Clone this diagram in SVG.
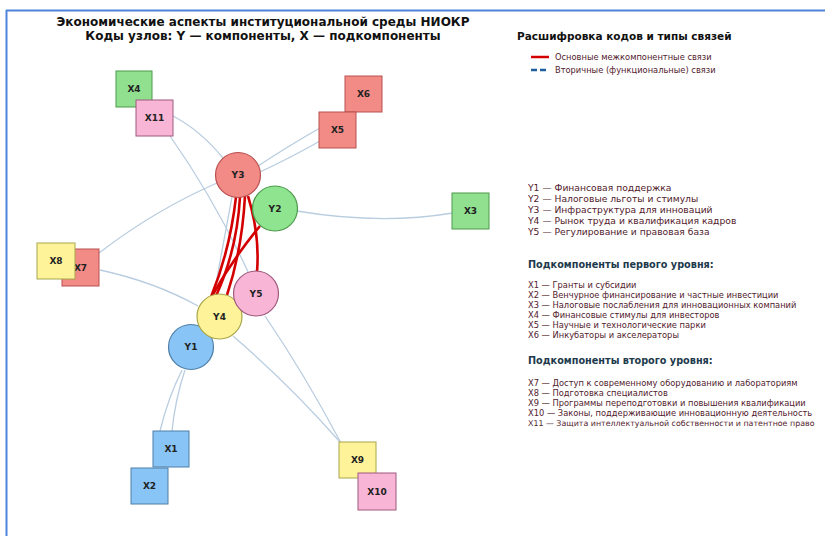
<svg xmlns="http://www.w3.org/2000/svg" width="825" height="536" viewBox="0 0 825 536">
<style>
.title{font-family:"DejaVu Sans",sans-serif;font-weight:bold;font-size:12px;fill:#111;text-anchor:middle}
.lt{font-family:"DejaVu Sans",sans-serif;font-weight:bold;font-size:10.5px;fill:#111}
.lh{font-family:"DejaVu Sans",sans-serif;font-weight:bold;font-size:9.7px;fill:#1d3a4c}
.ly{font-family:"DejaVu Sans",sans-serif;font-size:9.2px;fill:#521a2c}
.lx{font-family:"DejaVu Sans",sans-serif;font-size:8.3px;fill:#521a2c}
.lx2{font-family:"DejaVu Sans",sans-serif;font-size:7.9px;fill:#521a2c}
.nl{font-family:"DejaVu Sans",sans-serif;font-weight:bold;font-size:9px;fill:#222;text-anchor:middle;dominant-baseline:central}
.sec{fill:none;stroke:#b9cde0;stroke-width:1.3}
.main{fill:none;stroke:#d40000;stroke-width:2.6}
.n-y1{fill:#88c4f5;stroke:#4f7fa8;stroke-width:1.2}
.n-y2{fill:#8fe58f;stroke:#4c9a4c;stroke-width:1.2}
.n-y3{fill:#f28a86;stroke:#b85050;stroke-width:1.2}
.n-y4{fill:#fff39a;stroke:#a7a64a;stroke-width:1.2}
.n-y5{fill:#f9b5d5;stroke:#9e5a7e;stroke-width:1.2}
</style>
<rect x="0" y="0" width="825" height="536" fill="#ffffff"/>
<line x1="6" y1="10.5" x2="825" y2="10.5" stroke="#4f84db" stroke-width="2"/>
<line x1="6.5" y1="10" x2="6.5" y2="536" stroke="#4f84db" stroke-width="2"/>

<text class="title" x="263" y="26">Экономические аспекты институциональной среды НИОКР</text>
<text class="title" x="263" y="39.5">Коды узлов: Y — компоненты, X — подкомпоненты</text>

<g id="connectors">
  <path class="sec" d="M173,116 Q200,130 223,158"/>
  <path class="sec" d="M170,136 Q215,200 249,274"/>
  <path class="sec" d="M258,166 Q290,145 320,128"/>
  <path class="sec" d="M260,172 Q292,157 320,141"/>
  <path class="sec" d="M217,183 Q155,210 99,253"/>
  <path class="sec" d="M100,270 Q155,282 198,306"/>
  <path class="sec" d="M297,211 Q380,225 453,213"/>
  <path class="sec" d="M182,370 Q168,398 160,431"/>
  <path class="sec" d="M185,370 Q175,400 172,431"/>
  <path class="sec" d="M233,336 Q290,385 340,442"/>
  <path class="sec" d="M265,316 Q305,375 341,443"/>
  <path class="sec" d="M232,197 Q222,250 214,295"/>
  <path class="main" d="M236,197 Q230,250 211,297"/>
  <path class="main" d="M240,197 Q237,250 216,296"/>
  <path class="main" d="M245,196 Q242,250 227,295"/>
  <path class="main" d="M248,196 Q260,235 257,272"/>
  <path class="main" d="M260,226 Q232,260 212,296"/>
</g>

<g id="X4"><rect x="116" y="71" width="36" height="36" fill="#90e090" stroke="#4c9a4c" stroke-width="1"/><text class="nl" x="134" y="89">X4</text></g>
<g id="X11"><rect x="136" y="100" width="37" height="36" fill="#f9b5d5" stroke="#9e5a7e" stroke-width="1"/><text class="nl" x="154.5" y="118">X11</text></g>
<g id="X6"><rect x="345" y="76" width="37" height="36" fill="#f28a86" stroke="#b85050" stroke-width="1"/><text class="nl" x="363.5" y="94">X6</text></g>
<g id="X5"><rect x="319" y="112" width="37" height="36" fill="#f28a86" stroke="#b85050" stroke-width="1"/><text class="nl" x="337.5" y="130">X5</text></g>
<g id="X3"><rect x="452" y="193" width="37" height="36" fill="#90e090" stroke="#4c9a4c" stroke-width="1"/><text class="nl" x="470.5" y="211">X3</text></g>
<g id="X7"><rect x="62" y="249" width="37" height="37" fill="#f28a86" stroke="#b85050" stroke-width="1"/><text class="nl" x="80.5" y="267.5">X7</text></g>
<g id="X8"><rect x="37" y="243" width="38" height="36" fill="#fff39a" stroke="#a7a64a" stroke-width="1"/><text class="nl" x="56" y="261">X8</text></g>
<g id="X2"><rect x="131" y="468" width="37" height="36" fill="#88c4f5" stroke="#4f7fa8" stroke-width="1"/><text class="nl" x="149.5" y="486">X2</text></g>
<g id="X1"><rect x="153" y="431" width="36" height="36" fill="#88c4f5" stroke="#4f7fa8" stroke-width="1"/><text class="nl" x="171" y="449">X1</text></g>
<g id="X9"><rect x="339" y="442" width="37" height="36" fill="#fff39a" stroke="#a7a64a" stroke-width="1"/><text class="nl" x="357.5" y="460">X9</text></g>
<g id="X10"><rect x="358" y="473" width="38" height="37" fill="#f9b5d5" stroke="#9e5a7e" stroke-width="1"/><text class="nl" x="377" y="491.5">X10</text></g>

<g id="Y3"><circle class="n-y3" cx="238" cy="175" r="22.5"/><text class="nl" x="238" y="175">Y3</text></g>
<g id="Y2"><circle class="n-y2" cx="275" cy="208.5" r="22.5"/><text class="nl" x="275" y="208.5">Y2</text></g>
<g id="Y1"><circle class="n-y1" cx="191" cy="347" r="22.5"/><text class="nl" x="191" y="347">Y1</text></g>
<g id="Y4"><circle class="n-y4" cx="219.5" cy="316.5" r="22.5"/><text class="nl" x="219.5" y="316.5">Y4</text></g>
<g id="Y5"><circle class="n-y5" cx="256" cy="293.5" r="22.5"/><text class="nl" x="256" y="293.5">Y5</text></g>

<g id="legend">
  <text class="lt" x="517" y="40">Расшифровка кодов и типы связей</text>
  <line x1="531" y1="57" x2="549" y2="57" stroke="#d40000" stroke-width="2.5"/>
  <text class="lx" x="555" y="60">Основные межкомпонентные связи</text>
  <line x1="531" y1="70" x2="549" y2="70" stroke="#1f5f9f" stroke-width="2.5" stroke-dasharray="6,3"/>
  <text class="lx" x="555" y="73">Вторичные (функциональные) связи</text>
  <text class="ly" x="528" y="191">Y1 — Финансовая поддержка</text>
  <text class="ly" x="528" y="202">Y2 — Налоговые льготы и стимулы</text>
  <text class="ly" x="528" y="213">Y3 — Инфраструктура для инноваций</text>
  <text class="ly" x="528" y="224">Y4 — Рынок труда и квалификация кадров</text>
  <text class="ly" x="528" y="235">Y5 — Регулирование и правовая база</text>
  <text class="lh" x="528" y="268">Подкомпоненты первого уровня:</text>
  <text class="lx" x="528" y="288">X1 — Гранты и субсидии</text>
  <text class="lx" x="528" y="298">X2 — Венчурное финансирование и частные инвестиции</text>
  <text class="lx" x="528" y="308">X3 — Налоговые послабления для инновационных компаний</text>
  <text class="lx" x="528" y="318">X4 — Финансовые стимулы для инвесторов</text>
  <text class="lx" x="528" y="328">X5 — Научные и технологические парки</text>
  <text class="lx" x="528" y="338">X6 — Инкубаторы и акселераторы</text>
  <text class="lh" x="528" y="364">Подкомпоненты второго уровня:</text>
  <text class="lx" x="528" y="386">X7 — Доступ к современному оборудованию и лабораториям</text>
  <text class="lx" x="528" y="396">X8 — Подготовка специалистов</text>
  <text class="lx" x="528" y="406">X9 — Программы переподготовки и повышения квалификации</text>
  <text class="lx" x="528" y="416">X10 — Законы, поддерживающие инновационную деятельность</text>
  <text class="lx2" x="528" y="426">X11 — Защита интеллектуальной собственности и патентное право</text>
</g>
</svg>
